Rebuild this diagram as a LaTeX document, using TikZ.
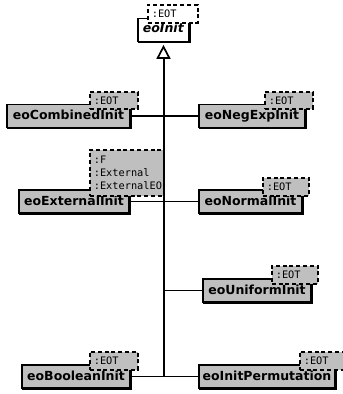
\documentclass[tikz,border=0pt]{standalone}
\usepackage{fontspec}
\setmainfont{DejaVu Sans}[BoldItalicFont={DejaVu Sans Bold Oblique},ItalicFont={DejaVu Sans Oblique}]
\newfontfamily\monof{DejaVu Sans Mono}
\usetikzlibrary{arrows.meta,shadows}
\definecolor{boxgray}{RGB}{191,191,191}
\tikzset{
  cls/.style={draw=black, line width=1.7pt, fill=boxgray, inner sep=0pt,
    minimum height=23pt, text height=9.5pt, text depth=2.5pt,
    font=\fontsize{12.5}{15}\selectfont\bfseries,
    copy shadow={shadow xshift=0.8pt, shadow yshift=-0.8pt, fill=black, draw=black}},
  tmpl/.style={draw=black, line width=1.6pt, dash pattern=on 4pt off 2.8pt,
    fill=boxgray, inner xsep=4pt, inner ysep=0pt, anchor=north west, align=left,
    font=\monof\fontsize{10.3}{13}\selectfont},
  conn/.style={draw=black, line width=1.7pt},
  trunk/.style={draw=black, line width=2pt}
}
\begin{document}
\begin{tikzpicture}[x=1pt,y=-1pt]
\useasboundingbox (0,0) rectangle (343,394);
% class boxes
\node[cls, fill=white, minimum width=51pt, text depth=5pt] (init) at (163.5,30) {\textit{eoInit}};
\node[cls, minimum width=123pt] (comb) at (68.5,116) {eoCombinedInit};
\node[cls, minimum width=106pt] (neg) at (252,116) {eoNegExpInit};
\node[cls, minimum width=110pt] (ext) at (74,201.5) {eoExternalInit};
\node[cls, minimum width=103pt] (norm) at (250.5,201.5) {eoNormalInit};
\node[cls, minimum width=108pt] (uni) at (257,290.5) {eoUniformInit};
\node[cls, minimum width=108pt] (bool) at (76,376.5) {eoBooleanInit};
\node[cls, minimum width=136pt] (perm) at (267,376.5) {eoInitPermutation};
% template boxes
\node[tmpl, fill=white, text width=42pt, minimum height=18pt] (tinit) at (147,4) {:EOT};
\node[tmpl, text width=40pt, minimum height=17pt] (tcomb) at (89,91) {:EOT};
\node[tmpl, text width=40pt, minimum height=17pt] (tneg) at (264,91) {:EOT};
\node[tmpl, text width=66pt, minimum height=46pt] (text) at (89,149) {:F\\:External\\:ExternalEO};
\node[tmpl, text width=38pt, minimum height=18pt] (tnorm) at (262,177) {:EOT};
\node[tmpl, text width=38pt, minimum height=18pt] (tuni) at (271,265) {:EOT};
\node[tmpl, text width=40pt, minimum height=18pt] (tbool) at (89,351) {:EOT};
\node[tmpl, text width=40pt, minimum height=18pt] (tperm) at (299,351) {:EOT};
% connectors
\coordinate (tb) at (163.5,376.5);
\draw[trunk, -{Triangle[open, length=14pt, width=14pt, line width=1.7pt]}, shorten >=2.5pt] (tb) -- (init.south);
\draw[conn] (comb.east) -- (neg.west);
\draw[conn] (ext.east) -- (norm.west);
\draw[conn] (uni.west) -- (uni.west -| tb);
\draw[conn] (bool.east) -- (perm.west);
\end{tikzpicture}
\end{document}
